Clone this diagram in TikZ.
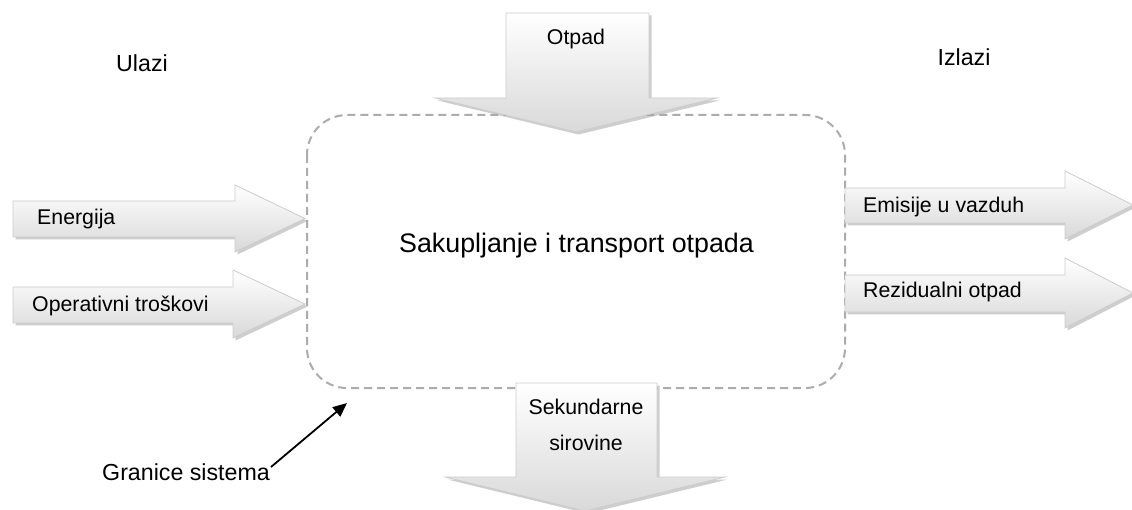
\documentclass[tikz,border=0pt]{standalone}
\usepackage{fontspec}
\setmainfont{Liberation Sans}
\usetikzlibrary{arrows.meta}
\newcommand{\blockR}[7]{% x0,x1,x2,a,b,c,d
  \fill[arrowshadow,xshift=2.5pt,yshift=-2.5pt] (#1,#4) -- (#2,#4) -- (#2,#6) -- (#3,{(#6+#7)/2}) -- (#2,#7) -- (#2,#5) -- (#1,#5) -- cycle;
  \path[blockarrow] (#1,#4) -- (#2,#4) -- (#2,#6) -- (#3,{(#6+#7)/2}) -- (#2,#7) -- (#2,#5) -- (#1,#5) -- cycle;}
\newcommand{\blockD}[7]{% l,r,hl,hr,top,base,tip
  \fill[arrowshadow,xshift=2.5pt,yshift=-2.5pt] (#1,#5) -- (#2,#5) -- (#2,#6) -- (#4,#6) -- ({(#3+#4)/2},#7) -- (#3,#6) -- (#1,#6) -- cycle;
  \path[blockarrow] (#1,#5) -- (#2,#5) -- (#2,#6) -- (#4,#6) -- ({(#3+#4)/2},#7) -- (#3,#6) -- (#1,#6) -- cycle;}
\begin{document}
\begin{tikzpicture}[x=1pt,y=-1pt,
  blockarrow/.style={draw=gray!40,line width=0.8pt,top color=white,bottom color=gray!30},
  arrowshadow/.style={fill=gray!70,draw=none,opacity=0.55},
  lbl/.style={font=\fontsize{21.3}{25}\selectfont,inner sep=0pt},
  hdr/.style={font=\fontsize{23.2}{27}\selectfont,inner sep=0pt},
  mainlbl/.style={font=\fontsize{26.8}{31}\selectfont,inner sep=0pt},
  boundary/.style={draw=gray!65,line width=2pt,dash pattern=on 8pt off 5pt,rounded corners=40pt},
  pointer/.style={line width=1.8pt,-{Triangle[length=14pt,width=12pt]}}]
\useasboundingbox (0,0) rectangle (1132,510);
\fill[white] (0,0) rectangle (1132,510);
% system boundary
\draw[boundary] (307,115) rectangle (845,388);
% block arrows
\blockR{13}{235}{305}{201}{237}{185}{252}
\blockR{13}{233}{305}{287}{323}{270}{338}
\blockR{845}{1065}{1133}{188}{223}{171}{239}
\blockR{845}{1065}{1133}{275}{312}{258}{328}
\blockD{506}{649}{435}{717}{13}{98}{132}
\blockD{516}{657}{445}{725}{383}{477}{511}
% labels
\node[hdr,anchor=base] (ulazi) at (142,72) {Ulazi};
\node[hdr,anchor=base] (izlazi) at (964,66) {Izlazi};
\node[lbl,anchor=base] (otpad) at (576,45) {Otpad};
\node[mainlbl,anchor=base] (proces) at (576.5,253) {Sakupljanje i transport otpada};
\node[lbl,anchor=base west] (energija) at (37,225) {Energija};
\node[lbl,anchor=base west] (troskovi) at (32,312) {Operativni troškovi};
\node[lbl,anchor=base west] (emisije) at (863,213) {Emisije u vazduh};
\node[lbl,anchor=base west] (rezidualni) at (863,298) {Rezidualni otpad};
\node[lbl,anchor=base] (sek1) at (586,414) {Sekundarne};
\node[lbl,anchor=base] (sek2) at (586,450) {sirovine};
\node[hdr,anchor=base west] (granice) at (102,480) {Granice sistema};
\coordinate (granicetip) at (347,403);
\draw[pointer] ([xshift=1pt,yshift=-4pt]granice.north east) -- (granicetip);
\end{tikzpicture}
\end{document}
